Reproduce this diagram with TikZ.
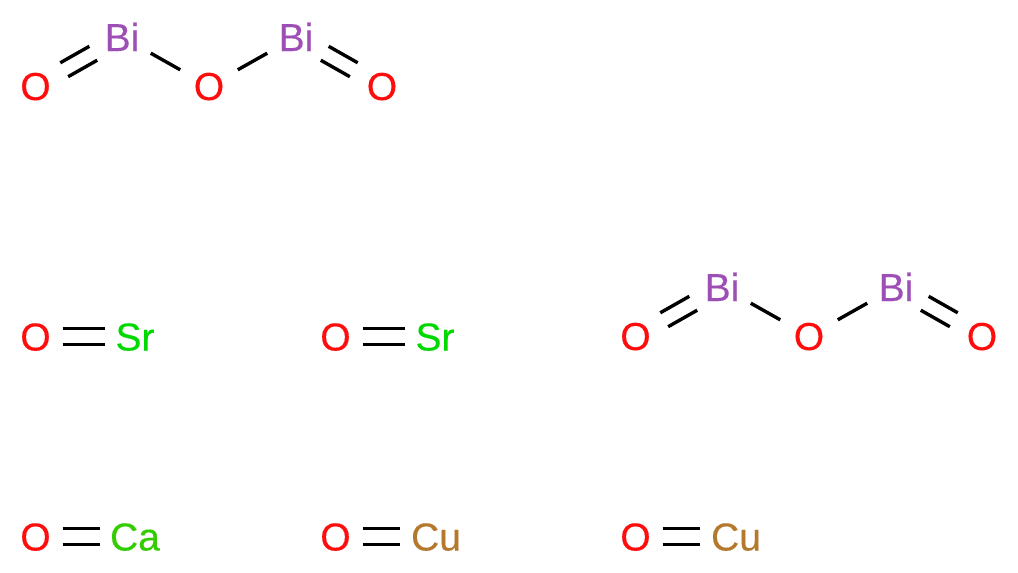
\documentclass[tikz,border=0pt]{standalone}
\usepackage{fontspec}
\setmainfont[FakeBold=0.25]{Liberation Sans}
\definecolor{cO}{HTML}{FF0D0D}
\definecolor{cBi}{HTML}{9E4FB5}
\definecolor{cSr}{HTML}{00D900}
\definecolor{cCa}{HTML}{33CC00}
\definecolor{cCu}{HTML}{B5792E}
\tikzset{
  atom/.style={anchor=base,inner sep=0pt,font=\fontsize{39}{39}\selectfont},
  oxy/.style={atom,text=cO},
  bis/.style={atom,text=cBi},
  sr/.style={atom,text=cSr},
  ca/.style={atom,text=cCa},
  cu/.style={atom,text=cCu},
  bondline/.style={line width=3.4pt,black},
  single/.style={draw,bondline,shorten >=33pt,shorten <=33pt},
  dblrise/.style={bondline,shorten >=33pt,shorten <=33pt,
    postaction={draw,bondline,transform canvas={xshift=3.94pt,yshift=-6.96pt}},
    postaction={draw,bondline,transform canvas={xshift=-3.94pt,yshift=6.96pt}}},
  dblfall/.style={bondline,shorten >=33pt,shorten <=33pt,
    postaction={draw,bondline,transform canvas={xshift=3.94pt,yshift=6.96pt}},
    postaction={draw,bondline,transform canvas={xshift=-3.94pt,yshift=-6.96pt}}},
  dblflat/.style={bondline,
    postaction={draw,bondline,transform canvas={yshift=8pt}},
    postaction={draw,bondline,transform canvas={yshift=-8pt}}},
  dblsr/.style={dblflat,shorten <=27pt,shorten >=30pt},
  dblca/.style={dblflat,shorten <=27pt,shorten >=35pt},
  dblcu/.style={dblflat,shorten <=27pt,shorten >=36pt},
}
\begin{document}
\begin{tikzpicture}[x=1pt,y=-1pt]
\useasboundingbox (0,0) rectangle (1018,573);
% top molecule
\node[oxy] (o1) at (35.5,100) {O};
\node[bis] (b1) at (122,51) {Bi};
\node[oxy] (o2) at (209,100) {O};
\node[bis] (b2) at (296,51) {Bi};
\node[oxy] (o3) at (382,100) {O};
\coordinate (co1) at (35.5,86); \coordinate (cb1) at (122,37);
\coordinate (co2) at (209,86); \coordinate (cb2) at (296,37);
\coordinate (co3) at (382.5,86);
\path[dblrise] (co1) -- (cb1);
\draw[single] (cb1) -- (co2);
\draw[single] (co2) -- (cb2);
\path[dblfall] (cb2) -- (co3);
% right molecule
\node[oxy] (o4) at (635.5,350) {O};
\node[bis] (b3) at (722,301) {Bi};
\node[oxy] (o5) at (809,350) {O};
\node[bis] (b4) at (896,301) {Bi};
\node[oxy] (o6) at (982,350) {O};
\coordinate (co4) at (635.5,336); \coordinate (cb3) at (722,287);
\coordinate (co5) at (809,336); \coordinate (cb4) at (896,287);
\coordinate (co6) at (982.5,336);
\path[dblrise] (co4) -- (cb3);
\draw[single] (cb3) -- (co5);
\draw[single] (co5) -- (cb4);
\path[dblfall] (cb4) -- (co6);
% Sr
\node[oxy] (o7) at (35.5,350.5) {O};
\node[sr] (s1) at (135,350.5) {Sr};
\coordinate (co7) at (35.5,336.5); \coordinate (cs1) at (135,336.5);
\path[dblsr] (co7) -- (cs1);
\node[oxy] (o8) at (335.5,350.5) {O};
\node[sr] (s2) at (435,350.5) {Sr};
\coordinate (co8) at (335.5,336.5); \coordinate (cs2) at (435,336.5);
\path[dblsr] (co8) -- (cs2);
% Ca, Cu
\node[oxy] (o9) at (35.5,550.5) {O};
\node[ca] (ca1) at (135,550.5) {Ca};
\coordinate (co9) at (35.5,536.5); \coordinate (cc1) at (135,536.5);
\path[dblca] (co9) -- (cc1);
\node[oxy] (o10) at (335.5,550.5) {O};
\node[cu] (cu1) at (436,550.5) {Cu};
\coordinate (co10) at (335.5,536.5); \coordinate (cc2) at (436,536.5);
\path[dblcu] (co10) -- (cc2);
\node[oxy] (o11) at (635.5,550.5) {O};
\node[cu] (cu2) at (736,550.5) {Cu};
\coordinate (co11) at (635.5,536.5); \coordinate (cc3) at (736,536.5);
\path[dblcu] (co11) -- (cc3);
\end{tikzpicture}
\end{document}
